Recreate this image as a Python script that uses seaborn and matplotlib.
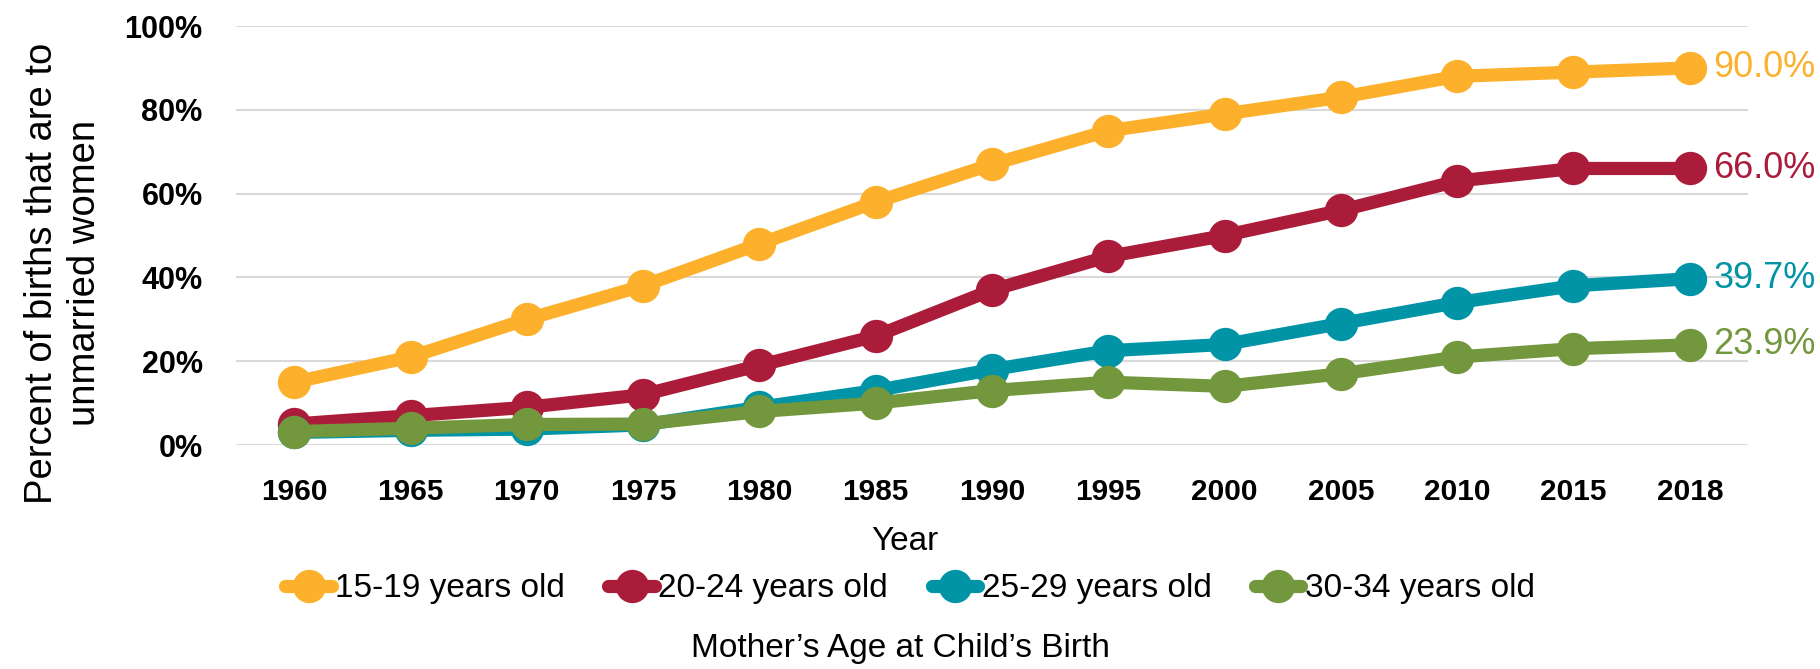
import seaborn as sns
import matplotlib.pyplot as plt
import pandas as pd

years = ["1960", "1965", "1970", "1975", "1980", "1985", "1990",
         "1995", "2000", "2005", "2010", "2015", "2018"]
age_groups = ["15-19 years old", "20-24 years old", "25-29 years old", "30-34 years old"]
teen = [15, 21, 30, 38, 48, 58, 67, 75, 79, 83, 88, 89, 90.0]
early20s = [5, 7, 9, 12, 19, 26, 37, 45, 50, 56, 63, 66, 66.0]
late20s = [3, 3.5, 3.8, 4.8, 9, 13, 18, 22.5, 24, 29, 34, 38, 39.7]
early30s = [3.2, 4, 4.9, 5, 8, 10, 13, 15, 14, 17, 21, 23, 23.9]
end_labels = ["90.0%", "66.0%", "39.7%", "23.9%"]
colors = ["#FCB02B", "#AB1C3B", "#0094A6", "#72973C"]

series = [teen, early20s, late20s, early30s]
df = pd.concat([pd.DataFrame({"Year": years, "Pct": vals, "Age": grp})
                for grp, vals in zip(age_groups, series)], ignore_index=True)
df["Pct"] = df["Pct"] / 100

sns.set_style("white")
plt.rcParams['font.family'] = ['Liberation Sans', 'DejaVu Sans']
plt.rcParams['text.color'] = 'black'
plt.rcParams['axes.labelcolor'] = 'black'
plt.rcParams['xtick.color'] = 'black'
plt.rcParams['ytick.color'] = 'black'

fig = plt.figure(figsize=(18.2, 6.69), dpi=100)
ax = fig.add_axes([0.1297, 0.3348, 0.8307, 0.6263])

sns.lineplot(data=df, x="Year", y="Pct", hue="Age", hue_order=age_groups,
             palette=colors, marker="o", markersize=24, markeredgewidth=0,
             linewidth=9.5, sort=False, ax=ax, clip_on=False, legend=True)

ax.set_ylim(0, 1)
ax.set_xlim(-0.5, len(years) - 0.5)
ax.set_yticks([0, 0.2, 0.4, 0.6, 0.8, 1.0])
ax.set_yticklabels(["0%", "20%", "40%", "60%", "80%", "100%"])
ax.yaxis.grid(True, color="#D9D9D9", linewidth=1.5)
ax.set_axisbelow(True)
sns.despine(ax=ax, left=True, bottom=True)
ax.tick_params(axis="x", length=0, labelsize=21.5, pad=24)
ax.tick_params(axis="y", length=0, labelsize=22, pad=24)
for lab in ax.get_xticklabels() + ax.get_yticklabels():
    lab.set_fontweight("bold")

ax.set_ylabel("Percent of births that are to\nunmarried women", fontsize=27.5,
              linespacing=1.25)
ax.yaxis.set_label_coords(-0.088, 0.41)
ax.set_xlabel("")
fig.text(0.497, 0.19, "Year", fontsize=24, ha="center", va="center")

for i, (vals, lab) in enumerate(zip(series, end_labels)):
    ax.annotate(lab, (len(years) - 1, vals[-1] / 100), xytext=(17, 0),
                textcoords="offset points", color=colors[i], fontsize=26,
                va="center", ha="left")

handles, labels = ax.get_legend_handles_labels()
ax.legend_.remove()
fig.legend(handles, labels, loc="center", bbox_to_anchor=(0.5, 0.12), ncol=4,
           frameon=False, fontsize=24, handlelength=1.4, handletextpad=0.1,
           columnspacing=1.3)
fig.text(0.495, 0.03, "Mother\u2019s Age at Child\u2019s Birth", fontsize=24,
         ha="center", va="center")

fig.savefig("out.png", dpi=100)
